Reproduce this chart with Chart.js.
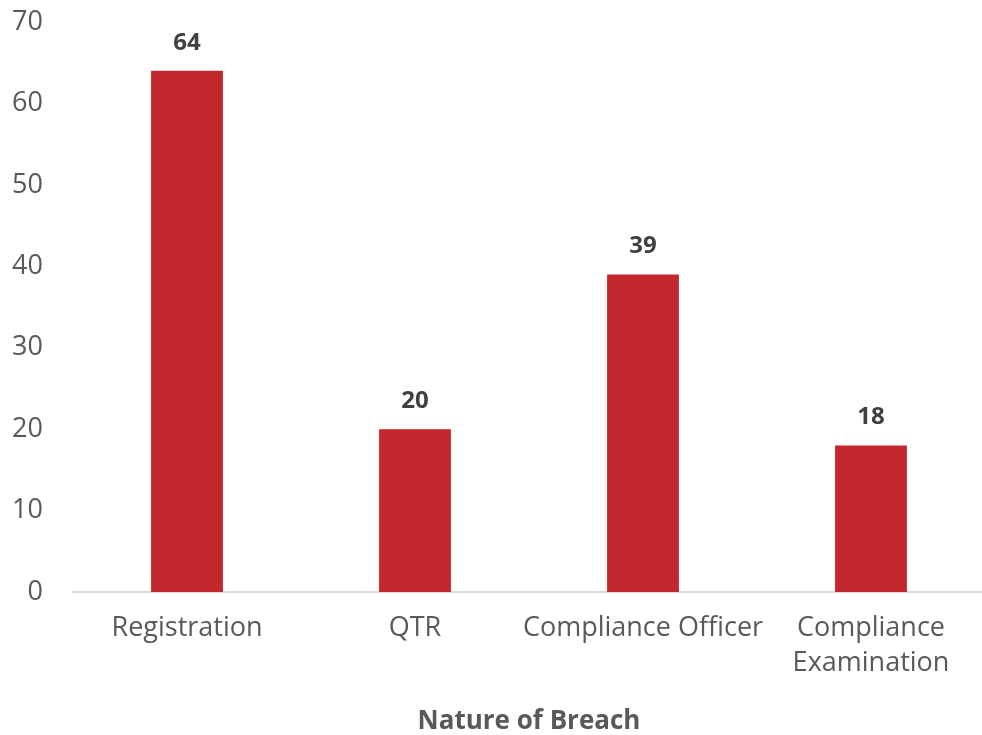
<!DOCTYPE html>
<html><head><meta charset="utf-8">
<script src="https://cdn.jsdelivr.net/npm/chart.js@4/dist/chart.umd.min.js"></script>
<style>html,body{margin:0;padding:0;background:#fff;overflow:hidden}#wrap{width:982px;height:735px;overflow:hidden}</style>
</head><body><div id="wrap"><canvas id="c" width="985" height="735"></canvas></div>
<script>
const categories = ['Registration', 'QTR', 'Compliance Officer', ['Compliance', 'Examination']];
const breaches = [64, 20, 39, 18];
const yTicks = [0, 10, 20, 30, 40, 50, 60, 70];
const xTitle = 'Nature of Breach';
const FONT = "'Open Sans', 'Liberation Sans', sans-serif";

const valueLabels = {
  id: 'valueLabels',
  afterDatasetsDraw(chart) {
    const ctx = chart.ctx;
    const meta = chart.getDatasetMeta(0);
    ctx.save();
    ctx.font = "bold 24px " + FONT;
    ctx.fillStyle = '#404040';
    ctx.textAlign = 'center';
    ctx.textBaseline = 'middle';
    meta.data.forEach((bar, i) => {
      ctx.fillText(String(chart.data.datasets[0].data[i]), bar.x, bar.y - 28);
    });
    ctx.restore();
  }
};

new Chart(document.getElementById('c'), {
  type: 'bar',
  data: {
    labels: categories,
    datasets: [{ data: breaches, backgroundColor: '#C1272D', barPercentage: 0.315, categoryPercentage: 1 }]
  },
  options: {
    responsive: false,
    animation: false,
    layout: { padding: { top: 22, right: 0, left: 0, bottom: 0 } },
    plugins: { legend: { display: false }, tooltip: { enabled: false } },
    scales: {
      y: {
        min: 0, max: 70,
        afterBuildTicks(s) { s.ticks = yTicks.map(v => ({ value: v })); },
        afterFit(s) { s.width = 73; s.paddingTop = 0; s.paddingBottom = 0; },
        grid: { display: false },
        border: { display: false },
        ticks: { color: '#595959', font: { family: FONT, size: 27 }, padding: 22 }
      },
      x: {
        afterFit(s) { s.height = 143; s.paddingLeft = 0; s.paddingRight = 0; },
        grid: { display: false, drawTicks: false },
        border: { display: true, color: '#d9d9d9', width: 2 },
        ticks: { color: '#595959', font: { family: FONT, size: 27, lineHeight: 1.3 }, padding: 19, maxRotation: 0, autoSkip: false },
        title: { display: true, text: xTitle, color: '#595959', font: { family: FONT, size: 26, weight: 'bold' }, padding: { top: 33, bottom: -2 } }
      }
    }
  },
  plugins: [valueLabels]
});
</script></body></html>
